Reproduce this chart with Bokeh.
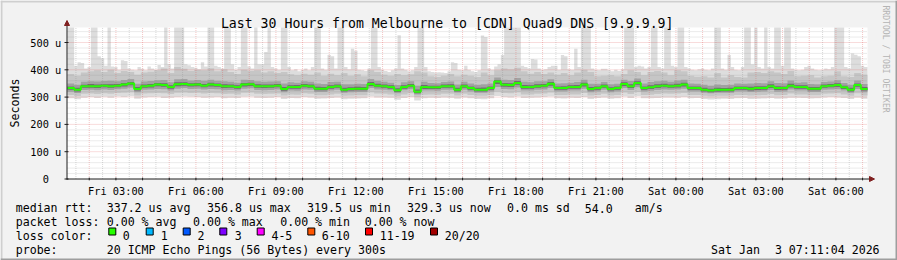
import numpy as np
from math import pi
from bokeh.plotting import figure
from bokeh.models import Range1d
from bokeh.core.properties import value
from bokeh.embed import file_html
from bokeh.resources import INLINE

# ---------------- data (microseconds) ----------------
START_H = 1 + 11 / 60 + 4 / 3600   # Fri 01:11:04, hours since Fri 00:00
SPAN_H = 30
STEP_H = 0.25                      # 15 minute bins for the percentile bands
STEP_MAX_H = 0.125                 # 7.5 minute bins for the max (outer smoke)
YMAX = 555

median = [333,327,340,340,340,342,340,342,346,350, 330,340,342,346,344,337,347,348,345,346,
          342,346,344,340,340,337,346,347,340,340, 340,342,330,337,337,342,340,331,331,337,
          340,327,330,331,331,348,342,340,337,325, 337,342,320,337,336,336,340,340,327,340,
          333,327,327,333,357,345,344,352,337,337, 340,342,349,333,333,337,337,346,330,333,
          340,330,333,348,340,352,333,336,340,342, 340,342,346,333,333,327,324,327,327,327,
          333,333,331,333,333,340,333,333,342,337, 337,331,331,340,342,344,336,327,344,330]
p60 = [339,334,345,348,346,347,347,348,352,355, 337,346,348,352,351,343,354,354,351,352,
       348,353,350,347,346,343,352,353,347,346, 346,348,337,343,344,348,346,338,337,343,
       346,334,336,338,337,355,349,346,343,332, 343,348,328,344,342,342,346,347,334,346,
       339,334,335,339,363,352,351,359,344,343, 347,348,355,339,340,343,344,353,337,339,
       346,336,339,354,347,358,339,343,347,349, 346,349,353,339,339,334,331,334,333,334,
       339,339,338,340,340,347,340,339,349,343, 343,337,337,346,348,351,342,334,350,337]
p40 = [327,321,334,334,333,336,334,336,339,343, 324,334,335,340,338,331,340,342,339,340,
       336,339,338,333,334,331,339,341,334,333, 334,336,323,331,331,336,334,325,325,331,
       334,321,324,325,325,341,336,334,331,319, 331,336,314,330,330,330,334,334,321,334,
       327,321,321,327,348,338,337,345,331,331, 334,336,342,327,327,331,331,339,324,327,
       334,324,327,341,333,345,327,330,333,336, 334,335,339,327,327,321,318,320,321,321,
       327,327,324,326,327,333,326,327,335,331, 331,325,325,334,336,337,330,321,338,324]
p75 = [350,345,356,358,357,359,360,358,363,366, 349,357,359,362,363,354,365,366,361,363,
       360,364,360,358,356,353,364,363,358,356, 357,358,350,354,353,358,356,350,348,355,
       356,347,347,349,348,366,360,356,353,344, 354,358,342,356,352,351,355,357,346,356,
       350,345,347,350,372,364,363,370,356,354, 358,358,365,350,351,353,355,364,349,349,
       355,347,349,364,359,368,350,355,358,360, 356,361,364,350,349,345,342,346,344,345,
       350,349,350,352,351,358,352,351,361,353, 354,348,347,355,357,362,352,345,361,348]
p25 = [320,315,326,327,325,328,326,329,331,334, 318,327,328,330,329,324,331,333,330,331,
       328,330,329,325,326,324,331,332,326,325, 326,328,318,324,323,328,327,319,319,324,
       327,316,318,319,319,333,328,327,325,314, 325,329,310,324,324,323,327,327,317,327,
       321,316,316,321,337,330,329,335,324,324, 327,328,333,321,321,324,324,331,318,321,
       327,318,321,333,326,336,321,323,326,328, 327,328,331,321,321,316,314,316,316,316,
       321,321,319,320,321,326,320,321,328,324, 324,319,319,327,328,329,324,316,330,318]
p90 = [385,378,390,395,398,392,400,388,396,392, 382,390,393,398,405,388,410,404,396,400,
       398,406,395,402,392,385,400,396,398,390, 395,388,392,384,380,386,382,390,378,386,
       380,388,378,384,376,398,392,382,378,385, 380,384,395,390,376,374,378,385,376,382,
       378,374,390,380,398,405,402,408,395,386, 392,385,390,382,388,380,390,400,392,376,
       378,380,376,385,398,392,380,392,396,390, 380,398,395,378,375,376,372,388,372,380,
       374,372,390,392,388,395,390,385,396,376, 378,380,372,376,378,395,376,374,388,382]
p10 = [308,304,312,313,311,314,312,315,316,318, 306,313,314,315,314,311,316,317,315,316,
       313,315,314,311,312,310,316,317,312,311, 312,313,306,310,309,314,312,307,307,310,
       312,305,306,307,307,318,313,312,310,303, 310,314,300,309,310,309,312,312,306,312,
       308,305,305,308,320,315,314,318,310,310, 312,313,317,308,308,310,310,315,306,308,
       312,306,308,317,311,319,308,309,311,313, 312,313,315,308,308,305,303,305,305,305,
       308,308,306,307,308,311,307,308,313,310, 310,307,307,312,313,314,310,305,314,306]
low = [296,292,298,300,297,301,298,302,300,303, 294,299,300,301,297,298,300,302,301,300,
       298,299,300,296,298,297,301,302,298,297, 298,300,293,297,296,300,299,294,295,297,
       299,292,294,295,296,302,299,299,298,290, 297,300,288,296,298,297,299,298,294,299,
       296,293,292,296,304,300,299,302,297,298, 299,300,302,296,295,298,297,300,293,297,
       299,294,296,302,297,303,296,296,297,299, 299,298,300,296,297,293,291,292,294,293,
       296,297,293,294,295,297,294,295,298,298, 297,295,296,299,300,299,297,293,299,294]
high = [620,600,415,428,425,405,410,590,630,450, 442,415,610,412,410,400,435,432,405,400,
        398,410,404,398,412,405,400,418,410,620, 420,405,600,640,580,420,417,410,408,402,
        428,412,610,590,415,410,405,650,600,420, 400,410,590,570,412,405,600,420,420,465,
        600,410,405,400,620,600,410,398,402,395, 400,405,398,410,620,590,405,400,454,450,
        405,600,610,410,402,477,470,400,398,396, 405,600,620,410,400,396,392,398,405,527,
        405,400,395,398,410,630,600,410,395,392, 390,391,390,388,395,428,425,400,398,415,
        400,395,392,398,526,520,405,400,412,420, 454,600,610,590,620,600,415,410,405,440,
        438,405,400,402,410,415,415,400,454,450, 402,400,477,410,630,600,590,405,400,398,
        404,404,398,395,400,396,402,640,600,590, 410,415,412,405,410,600,620,410,405,580,
        560,415,410,630,600,410,405,400,398,402, 405,400,398,405,610,600,405,400,454,410,
        400,398,410,590,600,420,620,410,405,600, 410,405,610,600,415,600,590,405,400,398,
        400,410,415,405,400,398,400,405,402,410, 640,620,600,410,405,460,455,450,415,410]

xtick_hours = [3, 6, 9, 12, 15, 18, 21, 24, 27, 30]
xtick_labels = ["Fri 03:00", "Fri 06:00", "Fri 09:00", "Fri 12:00", "Fri 15:00",
                "Fri 18:00", "Fri 21:00", "Sat 00:00", "Sat 03:00", "Sat 06:00"]
ytick_vals = [0, 100, 200, 300, 400, 500]
ytick_labels = ["0\u00a0\u00a0", "100 u", "200 u", "300 u", "400 u", "500 u"]

title_text = "Last 30 Hours from Melbourne to [CDN] Quad9 DNS [9.9.9.9]"
legend_rows = [
    [("median rtt:", 16), ("337.2 us avg", 107), ("356.8 us max", 207.3), ("319.5 us min", 307.3),
     ("329.3 us now", 407.3), ("0.0 ms sd", 507.3), ("54.0", 585), ("am/s", 635)],
    [("packet loss:", 16), ("0.00 % avg", 107), ("0.00 % max", 193.3), ("0.00 % min", 280.5),
     ("0.00 % now", 365)],
    [("loss color:", 16)],
    [("probe:", 16), ("20 ICMP Echo Pings (56 Bytes) every 300s", 107),
     ("Sat Jan", 711.3), ("3 07:11:04 2026", 775.2)],
]
loss_labels = ["0", "1", "2", "3", "4-5", "6-10", "11-19", "20/20"]
loss_colors = ["#26ff00", "#00b8ff", "#0059ff", "#7e00ff", "#ff00ff", "#ff5500", "#ff0000", "#a10000"]
loss_box_x = [108.3, 145.7, 182.7, 219.3, 256.7, 307.3, 365.0, 430.0]
loss_text_x = [123.0, 161.0, 197.7, 235.0, 271.7, 322.0, 380.0, 445.0]
watermark = "RRDTOOL / TOBI OETIKER"

# ---------------- layout constants (pixels) ----------------
W, H = 897, 260
FL, FR, FT, FB = 67, 867, 27, 178.5
KX = (FR - FL) / SPAN_H            # px per hour
KY = (FB - FT) / YMAX              # px per microsecond
FONT = "DejaVu Sans Mono"
BACK = "#f2f2f2"
SHADE_A = "#cfcfcf"
SHADE_B = "#9e9e9e"
ARROW = "#7f1f1f"
AXIS = "#1f1f1f"

p = figure(width=W, height=H, output_backend="svg", toolbar_location=None,
           x_range=Range1d(0, W), y_range=Range1d(H, 0), min_border=0,
           x_axis_location=None, y_axis_location=None)
p.title.text = ""
p.border_fill_color = BACK
p.background_fill_color = BACK
p.outline_line_color = None
for g in p.grid:
    g.visible = False

# data coordinate systems for the graph area
t0 = START_H - FL / KX
p.extra_x_ranges = {"t": Range1d(t0, t0 + W / KX)}
p.extra_y_ranges = {"v": Range1d((FB - H) / KY, FB / KY)}
TV = dict(x_range_name="t", y_range_name="v")

# borders (3D shading)
p.quad(left=[0, 0], right=[W, 2], top=[0, 0], bottom=[2, H], fill_color=SHADE_A, line_color=None)
p.quad(left=[0, W - 2], right=[W, W], top=[H - 2, 0], bottom=[H, H], fill_color=SHADE_B, line_color=None)

# canvas
p.quad(left=[START_H], right=[START_H + SPAN_H], bottom=[0], top=[YMAX],
       fill_color="white", line_color=None, **TV)

def ext(a):
    a = np.minimum(np.asarray(a, dtype=float), YMAX)
    return np.append(a, a[-1])

# smoke: outer (min..max) layer at finer time resolution, then inner percentile bands
x_edges = START_H + STEP_H * np.arange(len(median) + 1)
x_edges_max = START_H + STEP_MAX_H * np.arange(len(high) + 1)
low_fine = np.repeat(low, 2)
p.varea_step(x=x_edges_max, y1=ext(low_fine), y2=ext(high), step_mode="after",
             fill_color="#dddddd", **TV)
bands = [(p10, p90, "#c6c6c6"), (p25, p75, "#a2a2a2"), (p40, p60, "#6e6e6e")]
for lo, hi, col in bands:
    p.varea_step(x=x_edges, y1=ext(lo), y2=ext(hi), step_mode="after", fill_color=col, **TV)

p.step(x=x_edges, y=ext(median), mode="after", line_color="#26ff00", line_width=2, **TV)

# grid (drawn over the smoke, as rrdtool does)
hour_lines = list(range(2, 32))
half_lines = [h + 0.5 for h in range(1, 31)]
minor_v = [v for v in range(20, YMAX, 20) if v % 100]
major_v = [100, 200, 300, 400, 500]
p.segment(x0=half_lines, x1=half_lines, y0=0, y1=YMAX, line_color="#8f8f8f", line_alpha=0.35,
          line_dash="1 1", line_width=1, **TV)
p.segment(x0=START_H, x1=START_H + SPAN_H, y0=minor_v, y1=minor_v, line_color="#8f8f8f",
          line_alpha=0.35, line_dash="1 1", line_width=1, **TV)
p.segment(x0=hour_lines, x1=hour_lines, y0=0, y1=YMAX, line_color="#de5050", line_alpha=0.33,
          line_dash="1 1", line_width=1, **TV)
p.segment(x0=START_H, x1=START_H + SPAN_H, y0=major_v, y1=major_v, line_color="#de5050",
          line_alpha=0.4, line_dash="1 1", line_width=1, **TV)

# axes
p.segment(x0=[FL - 0.5], y0=[FB + 0.5], x1=[FL - 0.5], y1=[FT - 5], line_color=AXIS, line_width=1)
p.segment(x0=[FL - 1], y0=[FB], x1=[FR + 4], y1=[FB], line_color=AXIS, line_width=1)
p.patch(x=[FL - 3, FL - 0.5, FL + 2], y=[FT - 2, FT - 7, FT - 2], fill_color=ARROW, line_color=ARROW)
p.patch(x=[FR + 2, FR + 7, FR + 2], y=[FB - 2.5, FB, FB + 2.5], fill_color=ARROW, line_color=ARROW)
# tick marks
p.segment(x0=hour_lines, x1=hour_lines, y0=-5, y1=5, line_color=AXIS, line_width=1, **TV)
p.segment(x0=[t0 + (FL - 3) / KX] * 6, x1=[t0 + (FL + 1) / KX] * 6, y0=ytick_vals, y1=ytick_vals,
          line_color=AXIS, line_width=1, **TV)

# tick labels
p.text(x=xtick_hours, y=[190.8] * len(xtick_hours), text=xtick_labels, x_range_name="t",
       text_font=value(FONT), text_font_size="10.3px", text_align="center",
       text_baseline="alphabetic", text_color="black")
p.text(x=[t0 + 60.8 / KX] * len(ytick_vals), y=ytick_vals, text=ytick_labels, **TV,
       text_font=value(FONT), text_font_size="10.3px", text_align="right",
       text_baseline="middle", text_color="black")

def put(txts, xs, ys, size, align="left", baseline="alphabetic", color="black", angle=0.0):
    p.text(x=xs, y=ys, text=txts, text_font=value(FONT), text_font_size=size,
           text_align=align, text_baseline=baseline, text_color=color, angle=angle)

put([title_text], [446.7], [23.3], "13.2px", align="center")
put(["Seconds"], [14.5], [102.5], "11.6px", align="center", angle=pi / 2)
put([watermark], [885], [5], "8.1px", baseline="middle", color="#b4b4b4", angle=-pi / 2)

row_base = [207.5, 221.6, 235.4, 249.8]
for row, yb in zip(legend_rows, row_base):
    put([r[0] for r in row], [r[1] - 0.8 for r in row], [yb] * len(row), "11.6px")
p.quad(left=loss_box_x, right=[x + 7 for x in loss_box_x], top=[227.5] * 8, bottom=[234.5] * 8,
       fill_color=loss_colors, line_color="black", line_width=1)
put(loss_labels, [x - 0.8 for x in loss_text_x], [row_base[2]] * 8, "11.6px")

open("out.html", "w").write(file_html(p, INLINE))
